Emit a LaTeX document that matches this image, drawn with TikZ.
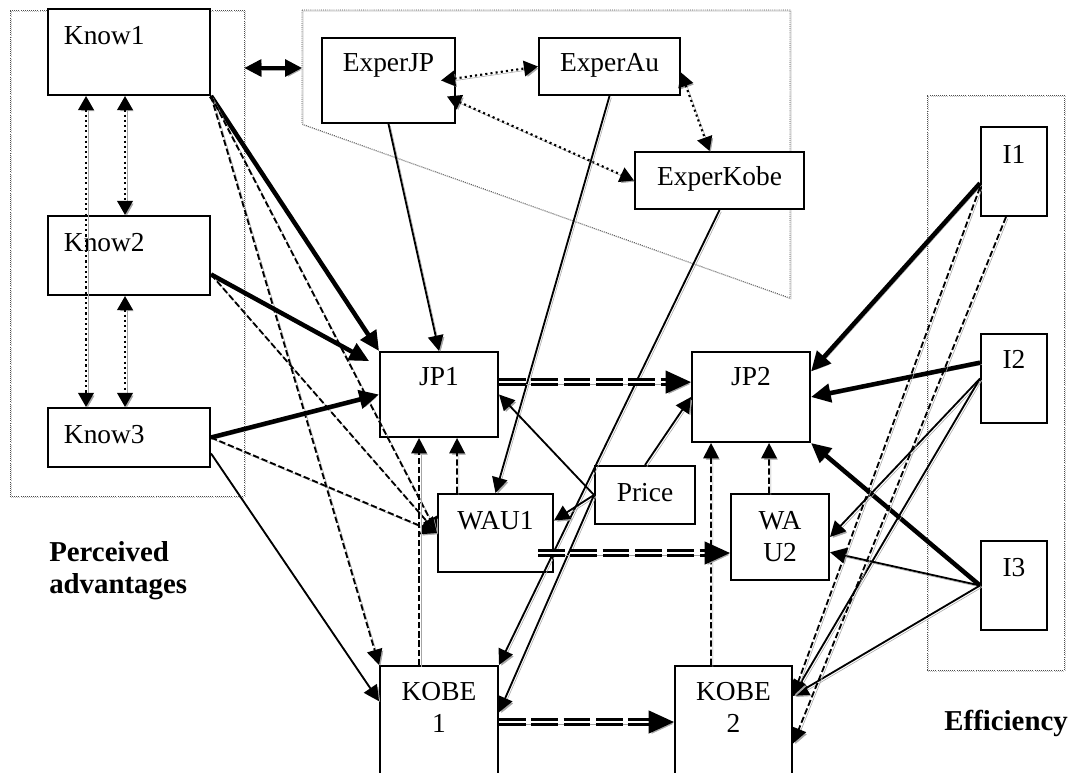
\documentclass[tikz,border=0pt]{standalone}
\usepackage{fontspec}
\setmainfont{Liberation Serif}
\usetikzlibrary{arrows.meta}

\begin{document}
\begin{tikzpicture}[
  x=0.025cm, y=-0.025cm,
  font=\fontsize{19.5}{23}\selectfont,
  box/.style={draw, line width=1.4pt, fill=white, inner sep=0pt},
  lbl/.style={anchor=center, yshift=-0.7cm},
  klbl/.style={anchor=west, xshift=0.3cm, yshift=-0.7cm},
  grp/.style={draw=black!70, line width=0.5pt, dash pattern=on 0.6pt off 0.9pt,
    preaction={draw=black!25, transform canvas={shift={(0.7pt,-0.7pt)}}}},
  shd/.style={preaction={draw=black!35, transform canvas={shift={(1.3pt,-1.3pt)}}}},
  arr/.style={shd, line width=1.3pt, -{Triangle[length=11pt,width=11pt]}},
  thk/.style={shd, line width=3.2pt, -{Triangle[length=14pt,width=13pt]}},
  dsh/.style={arr, dash pattern=on 4.5pt off 2pt},
  dot/.style={shd, line width=1.5pt, dash pattern=on 1.5pt off 2.2pt,
    {Triangle[length=10pt,width=11pt]}-{Triangle[length=10pt,width=11pt]}},
  dbl/.style={shd, double, line width=1.9pt, double distance=1.5pt,
    dash pattern=on 19pt off 4pt, -{Triangle[length=18pt,width=16pt]}},
  both/.style={shd, line width=2.2pt,
    {Triangle[length=12pt,width=12pt]}-{Triangle[length=12pt,width=12pt]}},
  head/.style={font=\fontsize{20.5}{23}\selectfont\bfseries, inner sep=0pt}
]
  \useasboundingbox (0,0) rectangle (1069,773);

  \node[grp, minimum width=5.85cm, minimum height=12.15cm] (lgrp) at (127,253) {};
  \draw[grp] (302,10) -- (790,10) -- (790,298) -- (302,124) -- cycle;
  \coordinate (tgrp) at (302,68);
  \node[grp, minimum width=3.425cm, minimum height=14.375cm] (rgrp) at (995.5,382.5) {};

  \node[box, minimum width=4.05cm, minimum height=2.15cm, label={[klbl]north west:Know1}] (know1) at (129,52) {};
  \node[box, minimum width=4.05cm, minimum height=1.975cm, label={[klbl]north west:Know2}] (know2) at (129,255.5) {};
  \node[box, minimum width=4.05cm, minimum height=1.475cm, label={[klbl]north west:Know3}] (know3) at (129,437.5) {};

  \node[box, minimum width=3.325cm, minimum height=2.125cm, label={[lbl]north:ExperJP}] (experjp) at (388.5,80.5) {};
  \node[box, minimum width=3.525cm, minimum height=1.425cm, label={[lbl]north:ExperAu}] (experau) at (609.5,66.5) {};
  \node[box, minimum width=4.225cm, minimum height=1.425cm, label={[lbl]north:ExperKobe}] (experkobe) at (719.5,180.5) {};

  \node[box, minimum width=2.95cm, minimum height=2.125cm, label={[lbl, yshift=0.05cm]north:JP1}] (jp1) at (439,394.5) {};
  \node[box, minimum width=2.95cm, minimum height=2.25cm, label={[lbl, yshift=0.05cm]north:JP2}] (jp2) at (751,397) {};
  \node[box, minimum width=2.875cm, minimum height=1.95cm, label={[lbl]north:WAU1}] (wau1) at (495.5,533) {};
  \node[box, minimum width=2.5cm, minimum height=1.45cm, label={[lbl]north:Price}] (price) at (645,495) {};
  \node[box, minimum width=2.45cm, minimum height=2.15cm, label={[lbl, align=center, yshift=-0.3875cm]north:WA\\U2}] (wau2) at (780,537) {};
  \node[box, minimum width=2.95cm, minimum height=3.35cm, label={[lbl, align=center, yshift=-0.3625cm]north:KOBE\\1}] (kobe1) at (439,733) {};
  \node[box, minimum width=2.925cm, minimum height=3.35cm, label={[lbl, align=center, yshift=-0.3625cm]north:KOBE\\2}] (kobe2) at (733.5,733) {};

  \node[box, minimum width=1.65cm, minimum height=2.225cm, label={[lbl]north:I1}] (i1) at (1014,171.5) {};
  \node[box, minimum width=1.65cm, minimum height=2.225cm, label={[lbl, yshift=0.05cm]north:I2}] (i2) at (1014,378.5) {};
  \node[box, minimum width=1.65cm, minimum height=2.225cm, label={[lbl]north:I3}] (i3) at (1014,585.5) {};

  \node[head, anchor=north west, align=left] (adv) at (49,541) {Perceived\\advantages};
  \node[head, anchor=base east] (eff) at (1068,730) {Efficiency};

  \draw[both] (lgrp.east |- tgrp) -- (tgrp);
  \draw[dot] ([xshift=0.975cm]know1.south west) -- ([xshift=0.975cm]know3.north west);
  \draw[dot] ([xshift=1.95cm]know1.south west) -- ([xshift=1.95cm]know2.north west);
  \draw[dot] ([xshift=1.95cm]know2.south west) -- ([xshift=1.95cm]know3.north west);

  \draw[dot] ([xshift=-0.375cm]experjp.east) -- (experau.west);
  \draw[dot] ([shift={(-0.225cm,-0.4cm)}]experjp.east) -- (experkobe.west);
  \draw[dot] ([yshift=-0.15cm]experau.east) -- ([xshift=-0.25cm]experkobe.north);

  \draw[thk] (know1.south east) -- (jp1.north west);
  \draw[dsh] (know1.south east) -- (kobe1.north west);
  \draw[dsh] (know1.south east) -- (wau1.west);
  \draw[thk, shorten >=8pt] (know2.-13) -- (jp1.155);
  \draw[dsh] (know2.-13) -- (wau1.west);
  \draw[thk] (know3.east) -- (jp1.west);
  \draw[dsh] (know3.east) -- (wau1.west);
  \draw[arr] (know3.-11) -- (kobe1.152);

  \draw[arr] (experjp.south) -- (jp1.north);
  \draw[arr] (experau.south) -- (wau1.north);
  \draw[arr] (experkobe.south) -- (kobe1.north east);

  \draw[arr] (price.west) -- (jp1.east);
  \draw[arr] (price.west) -- (wau1.12);
  \draw[arr] (price.west) -- (kobe1.19);
  \draw[arr] (price.north) -- (jp2.west);

  \draw[dsh] ([xshift=0.5cm]wau1.north west) -- ([xshift=1.95cm]jp1.south west);
  \draw[dsh] ([xshift=1cm]kobe1.north west) -- ([xshift=1cm]jp1.south west);
  \draw[dsh] ([xshift=0.975cm]wau2.north west) -- ([xshift=1.95cm]jp2.south west);
  \draw[dsh] ([xshift=0.925cm]kobe2.north west) -- ([xshift=0.5cm]jp2.south west);

  \draw[dbl] ([yshift=0.31cm]jp1.east) coordinate (s) -- (s -| jp2.west);
  \draw[dbl] ([shift={(-0.4cm,-0.5cm)}]wau1.east) coordinate (s) -- (s -| wau2.west);
  \draw[dbl] ([yshift=0.275cm]kobe1.east) coordinate (s) -- (s -| kobe2.west);

  \draw[thk] (i1.199) -- (jp2.23);
  \draw[thk] (i2.155) -- (jp2.east);
  \draw[thk] (i3.west) -- (jp2.south east);
  \draw[arr] (i2.west) -- (wau2.east);
  \draw[arr] (i2.west) -- (kobe2.32);
  \draw[arr] (i3.west) -- (wau2.-17);
  \draw[arr] (i3.west) -- (kobe2.32);
  \draw[dsh] (i1.205) -- (kobe2.32);
  \draw[dsh] (i1.-100) -- (kobe2.-10);
\end{tikzpicture}
\end{document}
